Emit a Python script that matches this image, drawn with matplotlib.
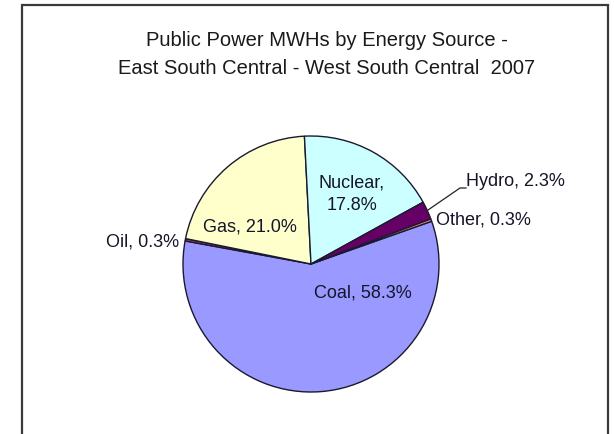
import matplotlib
matplotlib.use("Agg")
import matplotlib.pyplot as plt
from matplotlib.patches import Rectangle

# Public power generation shares by source (percent), in series order
sources = ["Coal", "Oil", "Gas", "Nuclear", "Hydro", "Other"]
shares = [58.3, 0.3, 21.0, 17.8, 2.3, 0.3]
colors = ["#9999FF", "#993366", "#FFFFCC", "#CCFFFF", "#660066", "#FF8080"]

title = "Public Power MWHs by Energy Source -\nEast South Central - West South Central  2007"

W, H = 614, 435
fig = plt.figure(figsize=(W / 100, H / 100), dpi=100)
ax = fig.add_axes([0, 0, 1, 1])

plt.rcParams["font.family"] = ["Liberation Sans", "DejaVu Sans"]

# chart area frame
ax.add_patch(Rectangle((22, -10), 586, H - 6 + 10, fill=False,
                       edgecolor="#3a3a3a", linewidth=1.6))

cx, cy, r = 311, H - 265, 128
ax.pie(shares, colors=colors, startangle=19.5, counterclock=False,
       center=(cx, cy), radius=r, frame=True,
       wedgeprops=dict(edgecolor="#1a1a2e", linewidth=1.0))
ax.set_xlim(0, W)
ax.set_ylim(0, H)
ax.set_aspect("equal")
ax.axis("off")

fs = 13
tc = "#15152a"
lab = {s: f"{s}, {v:.1f}%" for s, v in zip(sources, shares)}

ax.text(327, H - 54.5, title, ha="center", va="center", fontsize=14.5,
        color="#1a1a1a", linespacing=1.62)

ax.text(363, H - 293, lab["Coal"], ha="center", va="center", fontsize=fs, color=tc)
ax.text(250, H - 227, lab["Gas"], ha="center", va="center", fontsize=fs, color=tc)
ax.text(352, H - 194, lab["Nuclear"].replace(" ", "\n"), ha="center",
        va="center", fontsize=fs, linespacing=1.4, color=tc)
ax.text(179, H - 242, lab["Oil"], ha="right", va="center", fontsize=fs, color=tc)
ax.text(436, H - 220, lab["Other"], ha="left", va="center", fontsize=fs, color=tc)
ax.text(466, H - 182, lab["Hydro"], ha="left", va="center", fontsize=fs, color=tc)

# leader line for the Hydro label
ax.plot([428, 460, 466], [H - 211, H - 189, H - 189], color="#222222",
        linewidth=0.9)

fig.savefig("out.png", dpi=100, facecolor="white")
